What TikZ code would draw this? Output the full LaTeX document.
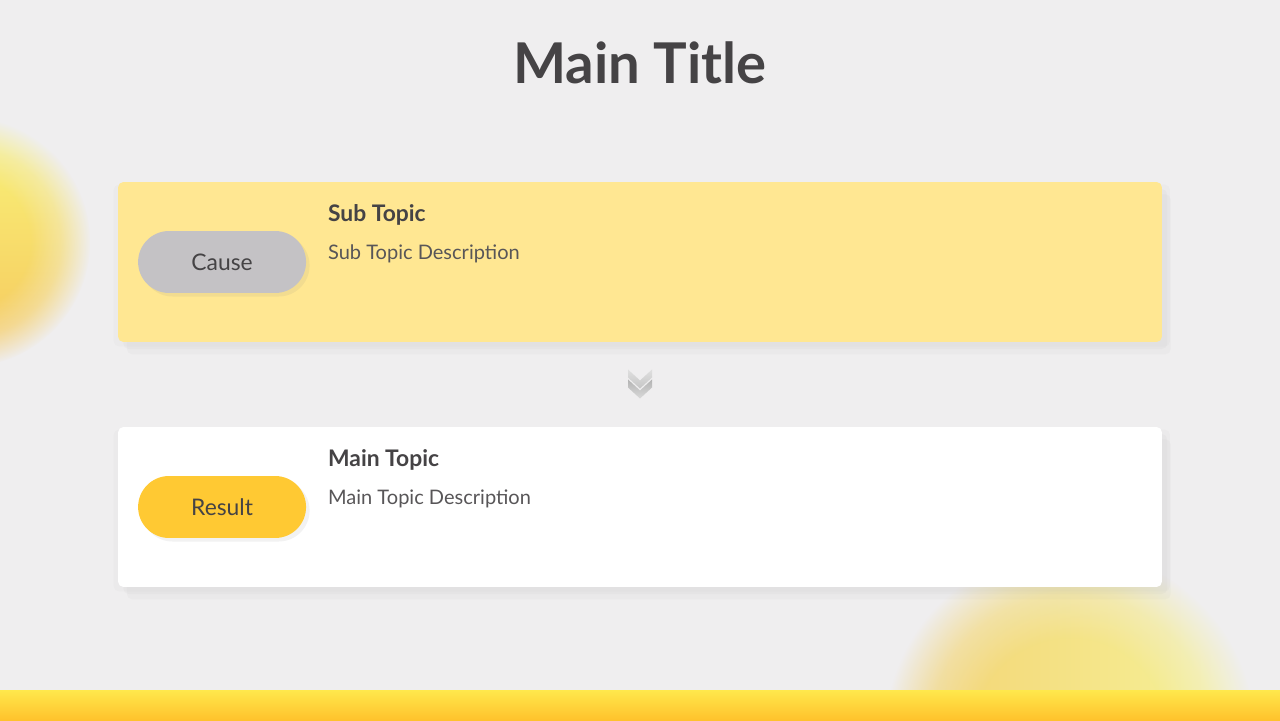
\documentclass[tikz,border=0pt]{standalone}
\usepackage{fontspec}
\setmainfont{Lato}
\usepackage{xcolor}
\usetikzlibrary{positioning,calc,shadows,fadings}
\definecolor{SlideBg}{HTML}{EFEEEF}
\definecolor{SlideText}{HTML}{454345}
\definecolor{CardYellow}{HTML}{FFE792}
\definecolor{PillGray}{HTML}{C4C2C5}
\definecolor{PillGold}{HTML}{FFC933}
\definecolor{BarTop}{HTML}{FFE84C}
\definecolor{BarBottom}{HTML}{FFC22C}
\definecolor{BlobYellow}{HTML}{F8F47A}
\definecolor{BlobOrange}{HTML}{F7C65C}
\definecolor{BlobPale}{HTML}{F6F59C}
\definecolor{BlobTan}{HTML}{F3D070}

% soft edged fading for the blurred blobs
\pgfdeclareradialshading{softblobshade}{\pgfpointorigin}{color(0bp)=(pgftransparent!0); color(13bp)=(pgftransparent!0); color(19bp)=(pgftransparent!35); color(25bp)=(pgftransparent!100); color(50bp)=(pgftransparent!100)}
\pgfdeclarefading{softblob}{\pgfuseshading{softblobshade}}

\begin{document}
\begin{tikzpicture}[x=0.02cm, y=0.02cm,
  card/.style={rounded corners=3pt, minimum width=20.88cm, minimum height=3.2cm,
    drop shadow={opacity=0.03, shadow xshift=1pt, shadow yshift=-2pt, shadow scale=1.012},
    drop shadow={opacity=0.04, shadow xshift=3pt, shadow yshift=-4pt},
    drop shadow={opacity=0.04, shadow xshift=5pt, shadow yshift=-7pt}},
  pill/.style={rounded corners=0.62cm, minimum width=3.36cm, minimum height=1.24cm,
    text=SlideText, font=\fontsize{13}{15}\selectfont, inner sep=0pt,
    drop shadow={opacity=0.10, shadow xshift=2pt, shadow yshift=-2pt}},
  heading/.style={anchor=base west, inner sep=0pt, text=SlideText, font=\fontsize{13}{15}\selectfont\bfseries},
  desc/.style={anchor=base west, inner sep=0pt, text=SlideText!90, font=\fontsize{11.4}{13}\selectfont}]

  % Background and frame
  \clip (0,0) rectangle (1280,720);
  \fill[SlideBg] (0,0) rectangle (1280,720);

  % Blurred blobs
  \shade[top color=BlobYellow, bottom color=BlobOrange, path fading=softblob] (-35,478) circle[radius=125];
  \shade[left color=BlobTan, right color=BlobPale, path fading=softblob] (1070,-15) circle[radius=185];

  % Bottom bar
  \shade[top color=BarTop, bottom color=BarBottom] (0,0) rectangle (1280,30);

  % Title
  \node[text=SlideText, font=\fontsize{32}{38}\selectfont\bfseries] (title) at (640,657) {Main Title};

  % Cards
  \node[card, fill=CardYellow] (cause card) at (640,458) {};
  \node[card, fill=white] (result card) at (640,213) {};

  % Pills
  \node[pill, fill=PillGray, anchor=west] (cause) at ([xshift=0.4cm]cause card.west) {Cause};
  \node[pill, fill=PillGold, anchor=west] (result) at ([xshift=0.4cm]result card.west) {Result};

  % Card texts
  \node[heading] (subtopic) at ([shift={(210,-40)}]cause card.north west) {Sub Topic};
  \node[desc] (subdesc) at ([yshift=-0.76cm]subtopic.base west) {Sub Topic Description};
  \node[heading] (maintopic) at ([shift={(210,-40)}]result card.north west) {Main Topic};
  \node[desc] (maindesc) at ([yshift=-0.76cm]maintopic.base west) {Main Topic Description};

  % Double chevron between the cards
  \coordinate (mid) at ($(cause card.south)!0.5!(result card.north)$);
  \shade[top color=gray!25, bottom color=gray!45]
    ($(mid)+(-12,15)$) -- ($(mid)+(0,4)$) -- ($(mid)+(12,15)$) -- ($(mid)+(12,7)$)
    -- ($(mid)+(0,-4)$) -- ($(mid)+(-12,7)$) -- cycle;
  \shade[top color=gray!60, bottom color=gray!30]
    ($(mid)+(-12,5)$) -- ($(mid)+(0,-6)$) -- ($(mid)+(12,5)$) -- ($(mid)+(12,-3)$)
    -- ($(mid)+(0,-14)$) -- ($(mid)+(-12,-3)$) -- cycle;
\end{tikzpicture}
\end{document}
